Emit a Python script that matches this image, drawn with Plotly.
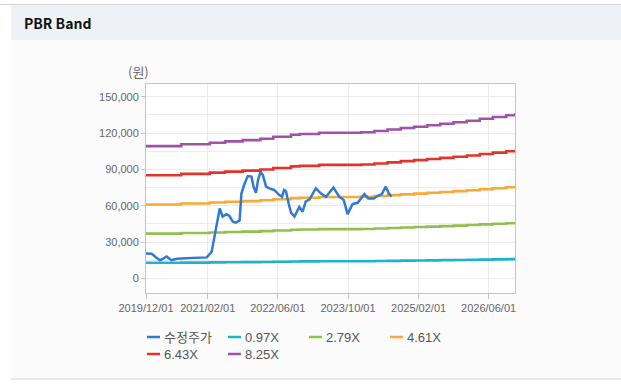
import plotly.graph_objects as go

# ---------------- data ----------------
price_dates = [
    "2019-12-01", "2020-01-10", "2020-02-07", "2020-03-07", "2020-04-01", "2020-04-22",
    "2020-05-25", "2020-07-01", "2020-09-01", "2020-11-01", "2021-01-01", "2021-01-25",
    "2021-02-28", "2021-03-22", "2021-04-25", "2021-05-15", "2021-06-10", "2021-07-01",
    "2021-07-25", "2021-08-15", "2021-09-10", "2021-09-22", "2021-10-15", "2021-11-06",
    "2021-12-01", "2021-12-15", "2022-01-01", "2022-01-15", "2022-02-01", "2022-02-18",
    "2022-03-12", "2022-04-03", "2022-05-07", "2022-06-12", "2022-07-01", "2022-07-15",
    "2022-07-28", "2022-08-15", "2022-09-01", "2022-09-25", "2022-10-15", "2022-10-28",
    "2022-11-20", "2022-12-12", "2023-01-06", "2023-01-28", "2023-02-20", "2023-03-28",
    "2023-05-01", "2023-06-22", "2023-08-01", "2023-09-01", "2023-09-28", "2023-11-01",
    "2023-12-07", "2024-01-22", "2024-02-18", "2024-03-28", "2024-04-22", "2024-05-22",
    "2024-06-18", "2024-07-10", "2024-07-28",
]
price_values = [
    20500, 20300, 17500, 15000, 16500, 18000,
    15000, 16200, 16500, 16800, 17000, 17300,
    22000, 37000, 57800, 51000, 53000, 51500,
    46800, 46000, 48000, 70000, 78500, 84500,
    84000, 75700, 70700, 81000, 88000, 85300,
    75700, 74300, 73000, 68800, 67400, 73000,
    72000, 62000, 54200, 51000, 56400, 59000,
    55000, 63500, 65000, 70000, 74300, 70000,
    67400, 75000, 67400, 64700, 53000, 61300,
    62400, 69600, 66000, 66000, 68000, 69600,
    75700, 70000, 67400,
]

band_dates = [
    "2019-12-01", "2020-08-01", "2021-02-15", "2021-06-01", "2021-10-01", "2022-02-01",
    "2022-05-01", "2022-09-01", "2022-11-01", "2023-03-15", "2024-01-01", "2024-04-01",
    "2024-07-01", "2024-10-01", "2025-01-01", "2025-04-01", "2025-07-01", "2025-10-01",
    "2026-01-01", "2026-04-01", "2026-07-01", "2026-10-01", "2026-12-01",
]
band_097 = [12840, 13020, 13170, 13300, 13420, 13560, 13750, 13950, 14020, 14140, 14180, 14310,
            14450, 14600, 14720, 14860, 15010, 15150, 15300, 15490, 15670, 15840, 16020]
band_279 = [36940, 37440, 37890, 38250, 38610, 39000, 39560, 40120, 40320, 40680, 40790, 41150,
            41570, 41990, 42350, 42740, 43160, 43580, 44000, 44560, 45060, 45560, 46090]
band_461 = [61040, 61870, 62600, 63200, 63800, 64450, 65370, 66290, 66610, 67210, 67400, 68000,
            68690, 69380, 69980, 70630, 71320, 72010, 72700, 73620, 74450, 75280, 76160]
band_643 = [85130, 86290, 87320, 88150, 88990, 89890, 91180, 92460, 92910, 93750, 94010, 94840,
            95810, 96770, 97610, 98510, 99470, 100440, 101400, 102690, 103840, 105000, 106220]
band_825 = [109230, 110720, 112040, 113110, 114180, 115340, 116990, 118640, 119210, 120290, 120620, 121690,
            122930, 124160, 125240, 126390, 127630, 128870, 130100, 131750, 133240, 134720, 136290]

series_names = ["수정주가", "0.97X", "2.79X", "4.61X", "6.43X", "8.25X"]
series_colors = ["#3279d4", "#1cb3d0", "#92c050", "#f9a934", "#e2342c", "#a052a8"]

x_tick_vals = ["2019-12-01", "2021-02-01", "2022-06-01", "2023-10-01", "2025-02-01", "2026-06-01"]
x_tick_text = ["2019/12/01", "2021/02/01", "2022/06/01", "2023/10/01", "2025/02/01", "2026/06/01"]
y_tick_vals = [0, 30000, 60000, 90000, 120000, 150000]
y_tick_text = ["0", "30,000", "60,000", "90,000", "120,000", "150,000"]

# ---------------- layout helpers (pixel -> paper) ----------------
W, H = 621, 390
L, R, T, B = 146, 515, 84, 293


def fx(px):
    return (px - L) / (R - L)


def fy(py):
    return (B - py) / (B - T)


FONT = "Liberation Sans, Arial, Noto Sans CJK KR, sans-serif"

fig = go.Figure()

bands = [band_097, band_279, band_461, band_643, band_825]
for i, vals in enumerate(bands):
    fig.add_trace(go.Scatter(
        x=band_dates, y=vals, mode="lines", name=series_names[i + 1],
        line=dict(color=series_colors[i + 1], width=2.6, shape="hv"),
        showlegend=False, hoverinfo="skip",
    ))

fig.add_trace(go.Scatter(
    x=price_dates, y=price_values, mode="lines", name=series_names[0],
    line=dict(color=series_colors[0], width=2.5),
    showlegend=False,
))

shapes = [
    # container background
    dict(type="rect", xref="paper", yref="paper", x0=fx(11), x1=fx(621), y0=fy(379), y1=fy(40),
         fillcolor="#fbfbfc", line=dict(width=0), layer="below"),
    # header band
    dict(type="rect", xref="paper", yref="paper", x0=fx(11), x1=fx(621), y0=fy(40), y1=fy(5),
         fillcolor="#eef2f7", line=dict(width=0), layer="below"),
    # plot area white
    dict(type="rect", xref="paper", yref="paper", x0=0, x1=1, y0=0, y1=1,
         fillcolor="#ffffff", line=dict(width=0), layer="below"),
    # top border line
    dict(type="line", xref="paper", yref="paper", x0=fx(0), x1=fx(621), y0=fy(4.5), y1=fy(4.5),
         line=dict(color="#d4d4d4", width=1)),
    # bottom border line
    dict(type="line", xref="paper", yref="paper", x0=fx(11), x1=fx(621), y0=fy(379), y1=fy(379),
         line=dict(color="#d4d4d4", width=1)),
]

annotations = [
    dict(text="<b>PBR Band</b>", xref="paper", yref="paper", x=fx(22), y=fy(23),
         xanchor="left", yanchor="middle", showarrow=False,
         font=dict(family="Noto Sans CJK KR, Liberation Sans, sans-serif", size=14, color="#111111")),
    dict(text="(원)", xref="paper", yref="paper", x=fx(138), y=fy(72),
         xanchor="center", yanchor="middle", showarrow=False,
         font=dict(family="Noto Sans CJK KR, sans-serif", size=13, color="#666666")),
]

# manual legend (two rows, four columns)
legend_slots = [(147, 337), (228, 337), (309, 337), (390, 337), (147, 354), (228, 354)]
for name, color, (sx, sy) in zip(series_names, series_colors, legend_slots):
    shapes.append(dict(type="line", xref="paper", yref="paper",
                       x0=fx(sx), x1=fx(sx + 13), y0=fy(sy), y1=fy(sy),
                       line=dict(color=color, width=2.5)))
    annotations.append(dict(text=name, xref="paper", yref="paper", x=fx(sx + 15), y=fy(sy),
                            xanchor="left", yanchor="middle", showarrow=False,
                            font=dict(family="Liberation Sans, Noto Sans CJK KR, sans-serif",
                                      size=13, color="#555555")))

fig.update_layout(
    width=W, height=H, autosize=False,
    margin=dict(l=L, r=W - R, t=T, b=H - B, pad=0),
    paper_bgcolor="#ffffff", plot_bgcolor="#ffffff",
    showlegend=False,
    shapes=shapes, annotations=annotations,
    font=dict(family=FONT, size=11, color="#666666"),
)

fig.update_xaxes(
    type="date", range=["2019-12-01", "2026-12-01"],
    tickvals=x_tick_vals, ticktext=x_tick_text,
    showgrid=True, gridcolor="#ebebeb", gridwidth=1,
    showline=True, linecolor="#c4c4c4", linewidth=1, mirror=True,
    ticks="outside", ticklen=5, tickcolor="#c4c4c4",
    tickfont=dict(family=FONT, size=11, color="#666666"),
    zeroline=False,
)
fig.update_yaxes(
    range=[-12100, 160500],
    tickvals=y_tick_vals, ticktext=y_tick_text,
    showgrid=True, gridcolor="#ebebeb", gridwidth=1,
    minor=dict(dtick=15000, tick0=0, showgrid=True, gridcolor="#ededed", gridwidth=1),
    showline=True, linecolor="#c4c4c4", linewidth=1, mirror=True,
    ticks="outside", ticklen=4, tickcolor="#c4c4c4",
    tickfont=dict(family=FONT, size=11, color="#666666"),
    zeroline=False,
)

fig.write_html(
    "out.html",
    config={"displayModeBar": False},
    post_script="document.body.style.margin='0';document.body.style.padding='0';"
                "document.documentElement.style.overflow='hidden';",
)
